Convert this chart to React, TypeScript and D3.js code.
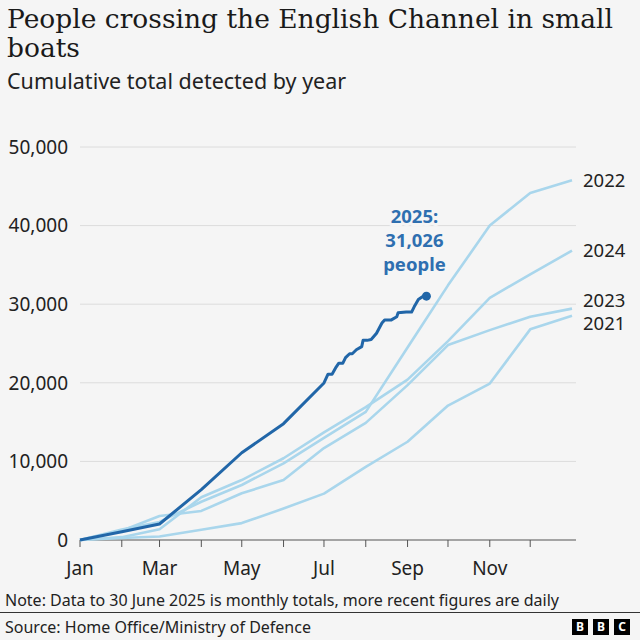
import React from 'react';
import * as d3 from 'd3';

// monthly cumulative totals, value at the start of each month (Jan 1 ... Jan 1 next year)
const seriesNames = ['2021', '2022', '2023', '2024'];
const cum2021 = [0, 250, 450, 1300, 2150, 4000, 5900, 9300, 12500, 17100, 19900, 26800, 28526];
const cum2022 = [0, 1340, 2300, 4870, 7000, 9760, 13000, 16300, 24500, 32400, 40000, 44150, 45774];
const cum2023 = [0, 1180, 3050, 3700, 5940, 7630, 11700, 14900, 19700, 24800, 26700, 28400, 29437];
const cum2024 = [0, 360, 1360, 5430, 7630, 10400, 13700, 16900, 20400, 25300, 30800, 33800, 36816];

// 2025: monthly to 30 June, then daily
const monthly2025 = [0, 1050, 2040, 6400, 11100, 14800, 19982];
const daily2025Dates = [
  '2025-07-04', '2025-07-07', '2025-07-10', '2025-07-12', '2025-07-15', '2025-07-17',
  '2025-07-20', '2025-07-22', '2025-07-25', '2025-07-29', '2025-07-30', '2025-08-02',
  '2025-08-05', '2025-08-09', '2025-08-13', '2025-08-15', '2025-08-20', '2025-08-24',
  '2025-08-25', '2025-08-31', '2025-09-04', '2025-09-06', '2025-09-07', '2025-09-09',
  '2025-09-12', '2025-09-15',
];
const daily2025Values = [
  21100, 21100, 22000, 22500, 22500, 23200,
  23700, 23700, 24200, 24600, 25400, 25400,
  25500, 26300, 27600, 28000, 28000, 28400,
  28900, 29000, 29000, 29700, 30000, 30600,
  30950, 31026,
];

const yTicks = [0, 10000, 20000, 30000, 40000, 50000];
const monthLabels = ['Jan', 'Feb', 'Mar', 'Apr', 'May', 'Jun', 'Jul', 'Aug', 'Sep', 'Oct', 'Nov', 'Dec'];

const W = 640;
const H = 640;
const BG = '#f5f5f5';
const LIGHT = '#a9d6ec';
const DARK = '#2166a8';
const LABEL_BLUE = '#2e6fb0';
const SANS = "'Noto Sans', sans-serif";
const SERIF = "'DejaVu Serif', serif";

type Pt = { date: Date; value: number };

const App: React.FC = () => {
  const start = new Date(2025, 0, 1);
  const end = new Date(2026, 0, 1);
  const monthStarts = d3.timeMonth.range(start, d3.timeDay.offset(end, 1));

  const x = d3.scaleTime().domain([start, end]).range([80, 572]);
  const y = d3.scaleLinear().domain([0, 50000]).range([540, 147]);

  const line = d3
    .line<Pt>()
    .x((d) => x(d.date))
    .y((d) => y(d.value));

  const lightSeries = [cum2021, cum2022, cum2023, cum2024].map((vals, i) => ({
    name: seriesNames[i],
    points: vals.map((v, j) => ({ date: monthStarts[j], value: v })),
  }));

  const parse = d3.timeParse('%Y-%m-%d');
  const data2025: Pt[] = [
    ...monthly2025.map((v, j) => ({ date: monthStarts[j], value: v })),
    ...daily2025Dates.map((s, j) => ({ date: parse(s) as Date, value: daily2025Values[j] })),
  ];
  const last = data2025[data2025.length - 1];

  // end labels, pushed apart so they do not overlap
  const labels = lightSeries
    .map((s) => ({ name: s.name, y: y(s.points[s.points.length - 1].value) }))
    .sort((a, b) => a.y - b.y);
  const gap = 23;
  for (let k = 1; k < labels.length; k++) {
    if (labels[k].y - labels[k - 1].y < gap) {
      const mid = (labels[k].y + labels[k - 1].y) / 2;
      labels[k - 1].y = mid - gap / 2;
      labels[k].y = mid + gap / 2;
    }
  }

  const lx = x(last.date);
  const ly = y(last.value);

  return (
    <svg
      width={W}
      height={H}
      style={{ position: 'absolute', left: 0, top: 0, background: BG }}
    >
      <rect width={W} height={H} fill={BG} />
      <g fill="#1a1a1a">
        <text x={7} y={28} fontFamily={SERIF} fontSize={26.5}>
          People crossing the English Channel in small
        </text>
        <text x={7} y={57} fontFamily={SERIF} fontSize={26.5}>
          boats
        </text>
        <text x={7} y={89} fontFamily={SANS} fontSize={21.5} fill="#222">
          Cumulative total detected by year
        </text>
      </g>

      {/* grid + y labels */}
      {yTicks.map((t) => (
        <g key={t}>
          {t > 0 && <line x1={80} x2={576} y1={y(t)} y2={y(t)} stroke="#dcdcdc" strokeWidth={1} />}
          <text
            x={68}
            y={y(t)}
            dy="0.36em"
            textAnchor="end"
            fontFamily={SANS}
            fontSize={19}
            fill="#222"
          >
            {d3.format(',')(t)}
          </text>
        </g>
      ))}

      {/* x axis */}
      <line x1={80} x2={576} y1={540} y2={540} stroke="#555" strokeWidth={1.2} />
      {monthStarts.slice(0, 12).map((d, i) => (
        <g key={i}>
          <line x1={x(d)} x2={x(d)} y1={540} y2={547} stroke="#555" strokeWidth={1} />
          {i % 2 === 0 && (
            <text
              x={x(d)}
              y={575}
              textAnchor="middle"
              fontFamily={SANS}
              fontSize={19}
              fill="#222"
            >
              {monthLabels[i]}
            </text>
          )}
        </g>
      ))}

      {/* past years */}
      {lightSeries.map((s) => (
        <path
          key={s.name}
          d={line(s.points) || ''}
          fill="none"
          stroke={LIGHT}
          strokeWidth={2.6}
          strokeLinejoin="round"
        />
      ))}
      {labels.map((l) => (
        <text key={l.name} x={583} y={l.y} dy="0.36em" fontFamily={SANS} fontSize={18.5} fill="#222">
          {l.name}
        </text>
      ))}

      {/* 2025 */}
      <path
        d={line(data2025) || ''}
        fill="none"
        stroke={DARK}
        strokeWidth={3}
        strokeLinejoin="round"
      />
      <circle cx={lx} cy={ly} r={4.5} fill={DARK} />

      <g
        fontFamily={SANS}
        fontSize={18.5}
        fontWeight={700}
        fill={LABEL_BLUE}
        textAnchor="middle"
        stroke={BG}
        strokeWidth={6}
        strokeLinejoin="round"
        style={{ paintOrder: 'stroke' }}
      >
        <text x={lx - 12} y={223}>2025:</text>
        <text x={lx - 12} y={247}>{d3.format(',')(last.value)}</text>
        <text x={lx - 12} y={271}>people</text>
      </g>

      {/* footer */}
      <text x={5} y={606} fontFamily={SANS} fontSize={16} fill="#222">
        Note: Data to 30 June 2025 is monthly totals, more recent figures are daily
      </text>
      <line x1={0} x2={W} y1={612.5} y2={612.5} stroke="#333" strokeWidth={1} />
      <text x={5} y={633} fontFamily={SANS} fontSize={16} fill="#222">
        Source: Home Office/Ministry of Defence
      </text>
      {['B', 'B', 'C'].map((c, i) => (
        <g key={i} transform={`translate(${572 + i * 21},619)`}>
          <rect width={16} height={16} fill="#000" />
          <text
            x={8}
            y={8}
            dy="0.36em"
            textAnchor="middle"
            fontFamily={SANS}
            fontSize={12}
            fontWeight={700}
            fill="#fff"
          >
            {c}
          </text>
        </g>
      ))}
    </svg>
  );
};

export default App;
